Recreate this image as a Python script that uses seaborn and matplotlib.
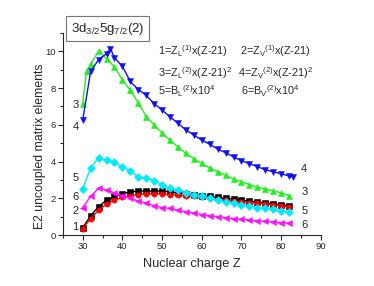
import matplotlib
matplotlib.use("Agg")
import matplotlib.pyplot as plt
import seaborn as sns
import pandas as pd
from matplotlib.ticker import MultipleLocator

# Datos
z_common = [30, 32, 34, 36, 38, 40, 42, 44, 46, 48, 50, 52, 54, 56, 58, 60,
            62, 64, 66, 68, 70, 72, 74, 76, 78, 80, 82]
z_green = [30, 31, 32, 34, 36, 38, 40, 42, 44, 46, 48, 50, 52, 54, 56, 58, 60,
           62, 64, 66, 68, 70, 72, 74, 76, 78, 80, 82]
z_blue = [30, 32, 34, 36, 37, 38, 40, 42, 44, 46, 48, 50, 52, 54, 56, 58, 60,
          62, 64, 66, 68, 70, 72, 74, 76, 78, 80, 82, 83]

s1 = [0.40, 1.05, 1.55, 1.90, 2.10, 2.25, 2.35, 2.40, 2.40, 2.40, 2.40, 2.35,
      2.30, 2.25, 2.20, 2.15, 2.10, 2.05, 2.00, 1.95, 1.90, 1.85, 1.80, 1.75,
      1.70, 1.65, 1.60]
s2 = [0.35, 0.90, 1.35, 1.70, 1.90, 2.05, 2.15, 2.20, 2.25, 2.25, 2.25, 2.20,
      2.20, 2.15, 2.10, 2.05, 2.00, 1.95, 1.90, 1.85, 1.80, 1.75, 1.75, 1.70,
      1.65, 1.60, 1.55]
s3 = [7.15, 8.95, 9.30, 10.0, 9.60, 9.15, 8.45, 7.88, 7.20, 6.45, 6.00, 5.55,
      5.15, 4.80, 4.45, 4.15, 3.90, 3.65, 3.45, 3.25, 3.05, 2.90, 2.75, 2.60,
      2.50, 2.40, 2.30, 2.15]
s4 = [6.25, 8.90, 9.55, 9.87, 10.15, 9.65, 9.18, 8.36, 7.92, 7.60, 7.15, 6.80,
      6.44, 6.08, 5.72, 5.44, 5.17, 4.94, 4.68, 4.48, 4.25, 4.05, 3.88, 3.73,
      3.55, 3.45, 3.33, 3.22, 3.18]
s5 = [2.50, 3.65, 4.20, 4.10, 3.95, 3.70, 3.50, 3.15, 3.10, 2.95, 2.75, 2.55,
      2.45, 2.30, 2.20, 2.10, 2.00, 1.90, 1.80, 1.72, 1.65, 1.57, 1.50, 1.45,
      1.40, 1.32, 1.26]
s6 = [1.50, 2.10, 2.55, 2.45, 2.30, 2.15, 2.00, 1.85, 1.75, 1.60, 1.50, 1.45,
      1.35, 1.27, 1.20, 1.12, 1.06, 1.00, 0.95, 0.90, 0.86, 0.82, 0.78, 0.75,
      0.71, 0.68, 0.65]

series = [
    ("1", z_common, s1, "black", "s"),
    ("2", z_common, s2, "red", "o"),
    ("3", z_green, s3, "#22ee22", "^"),
    ("4", z_blue, s4, "#1010f0", "v"),
    ("5", z_common, s5, "#00eaff", "D"),
    ("6", z_common, s6, "#ff10ff", "<"),
]

sns.set_style("ticks")
plt.rcParams["font.family"] = ["Liberation Sans", "DejaVu Sans"]
plt.rcParams["mathtext.fontset"] = "custom"
plt.rcParams["mathtext.rm"] = "Liberation Sans"
plt.rcParams["mathtext.it"] = "Liberation Sans"

fig = plt.figure(figsize=(3.74, 2.86), dpi=100)
ax = fig.add_axes([0.168, 0.178, 0.69, 0.707])

for name, zz, vals, col, mk in series:
    df = pd.DataFrame({"Z": zz, "v": vals})
    sns.lineplot(data=df, x="Z", y="v", ax=ax, color=col, marker=mk,
                 markersize=3.8, markeredgewidth=0.4, markeredgecolor=col,
                 linewidth=1.0)

ax.set_xlim(25, 90)
ax.set_ylim(0, 11)
ax.xaxis.set_major_locator(MultipleLocator(10))
ax.xaxis.set_minor_locator(MultipleLocator(5))
ax.yaxis.set_major_locator(MultipleLocator(2))
ax.yaxis.set_minor_locator(MultipleLocator(1))
ax.tick_params(which="major", length=3.5, width=0.8, labelsize=6.8, pad=1.5)
ax.tick_params(which="minor", length=2, width=0.8)
for sp in ["top", "right"]:
    ax.spines[sp].set_visible(False)
ax.set_xlabel("Nuclear charge Z", fontsize=9.2, labelpad=5)
ax.set_ylabel("E2 uncoupled matrix elements", fontsize=8.8)
ax.yaxis.label.set_va("center")
ax.yaxis.set_label_coords(-0.087, 0.44)

# etiquetas de las curvas
left_lbl = [("3", 7.1), ("4", 5.9), ("5", 3.1), ("6", 2.05), ("2", 1.3), ("1", 0.45)]
for t, y in left_lbl:
    ax.text(28.2, y, t, fontsize=8, ha="center", va="center")
right_lbl = [("4", 3.6), ("3", 2.35), ("5", 1.3), ("6", 0.55)]
for t, y in right_lbl:
    ax.text(85.8, y, t, fontsize=8, ha="center", va="center")

fig.text(0.288, 0.9, r"3d$_{3/2}$5g$_{7/2}$(2)", fontsize=9.5, ha="center", va="center",
         bbox=dict(boxstyle="square,pad=0.35", fc="white", ec="#777777", lw=0.8))

leg = [
    (0.422, 0.822, r"1=Z$_\mathrm{L}$$^{(1)}$x(Z-21)"),
    (0.642, 0.822, r"2=Z$_\mathrm{V}$$^{(1)}$x(Z-21)"),
    (0.422, 0.745, r"3=Z$_\mathrm{L}$$^{(2)}$x(Z-21)$^2$"),
    (0.636, 0.745, r"4=Z$_\mathrm{V}$$^{(2)}$x(Z-21)$^2$"),
    (0.422, 0.68, r"5=B$_\mathrm{L}$$^{(2)}$x10$^4$"),
    (0.645, 0.68, r"6=B$_\mathrm{V}$$^{(2)}$x10$^4$"),
]
for x, y, t in leg:
    fig.text(x, y, t, fontsize=7.8, ha="left", va="center")

fig.savefig("out.png", dpi=100)
